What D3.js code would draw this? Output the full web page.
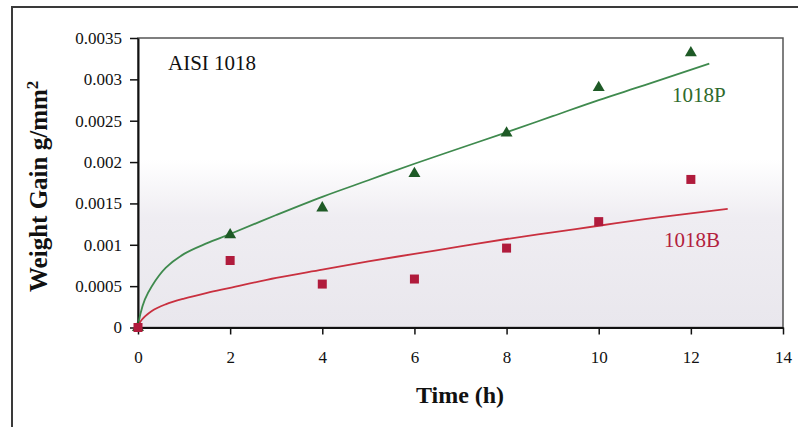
<!DOCTYPE html>
<html>
<head>
<meta charset="utf-8">
<script src="https://cdn.jsdelivr.net/npm/d3@7"></script>
<style>
  html, body { margin: 0; padding: 0; background: #ffffff; }
  svg { display: block; }
</style>
</head>
<body>
<svg id="chart" width="798" height="427"></svg>
<script>
// Measured weight gain of AISI 1018 samples over exposure time
const timeHours = [0, 2, 4, 6, 8, 10, 12];
const gain1018P = [0, 0.00112, 0.001445, 0.00186, 0.00235, 0.0029, 0.00332];
const gain1018B = [0, 0.00081, 0.000525, 0.000586, 0.00096, 0.00128, 0.00179];

// Trend curves for each series
const trendTimeP = [0, 0.05, 0.15, 0.3, 0.6, 1.0, 1.5, 2.0, 3.0, 4.0, 5.0, 6.0, 7.0, 8.0, 9.0, 10.0, 11.0, 12.4];
const trendGainP = [0, 0.00016, 0.00034, 0.0005, 0.00072, 0.00089, 0.00102, 0.00113, 0.00136, 0.00158, 0.00178, 0.00198, 0.00217, 0.00236, 0.002555, 0.00275, 0.00293, 0.00319];
const trendTimeB = [0, 0.05, 0.3, 0.6, 1.0, 1.5, 2.0, 3.0, 4.0, 5.0, 6.0, 7.0, 8.0, 9.0, 10.0, 11.0, 12.0, 12.8];
const trendGainB = [0, 0.00007, 0.0002, 0.00028, 0.00035, 0.00042, 0.00048, 0.0006, 0.0007, 0.0008, 0.00089, 0.00098, 0.00107, 0.00115, 0.00123, 0.00131, 0.00138, 0.001435];

// Axis ticks
const xTicks = [0, 2, 4, 6, 8, 10, 12, 14];
const yTicks = [0, 0.0005, 0.001, 0.0015, 0.002, 0.0025, 0.003, 0.0035];
const yTickLabels = ["0", "0.0005", "0.001", "0.0015", "0.002", "0.0025", "0.003", "0.0035"];

const svg = d3.select("#chart");
const serif = "'Liberation Serif', 'Times New Roman', serif";

const plot = { left: 138, right: 783, top: 38, bottom: 327.5 };

const x = d3.scaleLinear().domain([0, 14]).range([plot.left, plot.right]);
const y = d3.scaleLinear().domain([0, 0.0035]).range([plot.bottom, plot.top]);

// Outer frame
svg.append("path")
  .attr("d", `M12,430 L12,7 L800,7`)
  .attr("fill", "none")
  .attr("stroke", "#3a3a3a")
  .attr("stroke-width", 2);

// Plot area background
const defs = svg.append("defs");
const grad = defs.append("linearGradient")
  .attr("id", "plotBg").attr("x1", 0).attr("y1", 0).attr("x2", 0).attr("y2", 1);
grad.append("stop").attr("offset", "0%").attr("stop-color", "#ffffff");
grad.append("stop").attr("offset", "42%").attr("stop-color", "#ffffff");
grad.append("stop").attr("offset", "62%").attr("stop-color", "#efedf2");
grad.append("stop").attr("offset", "100%").attr("stop-color", "#e9e7ed");

svg.append("rect")
  .attr("x", plot.left).attr("y", plot.top)
  .attr("width", plot.right - plot.left).attr("height", plot.bottom - plot.top)
  .attr("fill", "url(#plotBg)")
  .attr("stroke", "#555555")
  .attr("stroke-width", 1.5);

// Axes
const yAxis = d3.axisLeft(y).tickValues(yTicks)
  .tickFormat((d, i) => yTickLabels[i])
  .tickSize(8).tickSizeOuter(0).tickPadding(8);
const gy = svg.append("g").attr("transform", `translate(${plot.left},0)`).call(yAxis);
gy.select(".domain").attr("stroke", "#111").attr("stroke-width", 2);
gy.selectAll(".tick line").attr("stroke", "#111").attr("stroke-width", 1.5);
gy.selectAll(".tick text").attr("font-family", serif).attr("font-size", 17).attr("fill", "#111");

const xAxis = d3.axisBottom(x).tickValues(xTicks)
  .tickFormat(d3.format("d"))
  .tickSize(7).tickSizeOuter(0).tickPadding(16);
const gx = svg.append("g").attr("transform", `translate(0,${plot.bottom})`).call(xAxis);
gx.select(".domain").attr("stroke", "#111").attr("stroke-width", 2);
gx.selectAll(".tick line").attr("stroke", "#111").attr("stroke-width", 1.5);
gx.selectAll(".tick text").attr("font-family", serif).attr("font-size", 17).attr("fill", "#111");

// Axis titles
svg.append("text")
  .attr("x", 460).attr("y", 403)
  .attr("text-anchor", "middle")
  .attr("font-family", serif).attr("font-weight", "bold").attr("font-size", 24)
  .attr("fill", "#111")
  .text("Time (h)");

const yTitle = svg.append("text")
  .attr("transform", "translate(47,292) rotate(-90)")
  .attr("text-anchor", "start")
  .attr("font-family", serif).attr("font-weight", "bold").attr("font-size", 25)
  .attr("fill", "#111");
yTitle.append("tspan").text("Weight Gain g/mm");
yTitle.append("tspan").attr("dy", -9).attr("font-size", 17).text("2");

// Trend curves
const line = d3.line().x(d => x(d[0])).y(d => y(d[1])).curve(d3.curveCatmullRom.alpha(0.5));
svg.append("path")
  .datum(trendTimeP.map((t, i) => [t, trendGainP[i]]))
  .attr("d", line).attr("fill", "none")
  .attr("stroke", "#3f8a4e").attr("stroke-width", 1.8);
svg.append("path")
  .datum(trendTimeB.map((t, i) => [t, trendGainB[i]]))
  .attr("d", line).attr("fill", "none")
  .attr("stroke", "#c9303f").attr("stroke-width", 1.8);

// Markers: triangles for 1018P, squares for 1018B
const tri = d3.symbol().type(d3.symbolTriangle).size(62);
svg.append("g").selectAll("path")
  .data(timeHours.map((t, i) => [t, gain1018P[i]]))
  .join("path")
  .attr("d", tri)
  .attr("transform", d => `translate(${x(d[0])},${y(d[1])})`)
  .attr("fill", "#1e5a26");

svg.append("g").selectAll("rect")
  .data(timeHours.map((t, i) => [t, gain1018B[i]]))
  .join("rect")
  .attr("x", d => x(d[0]) - 4.5).attr("y", d => y(d[1]) - 4.5)
  .attr("width", 9).attr("height", 9)
  .attr("fill", "#b01b3c");

// Series labels
svg.append("text")
  .attr("x", 672).attr("y", 102)
  .attr("font-family", serif).attr("font-size", 21)
  .attr("fill", "#2f6a2c")
  .text("1018P");
svg.append("text")
  .attr("x", 664).attr("y", 247)
  .attr("font-family", serif).attr("font-size", 21)
  .attr("fill", "#b3213d")
  .text("1018B");

svg.append("text")
  .attr("x", 168).attr("y", 70)
  .attr("font-family", serif).attr("font-size", 21)
  .attr("fill", "#111")
  .text("AISI 1018");
</script>
</body>
</html>
